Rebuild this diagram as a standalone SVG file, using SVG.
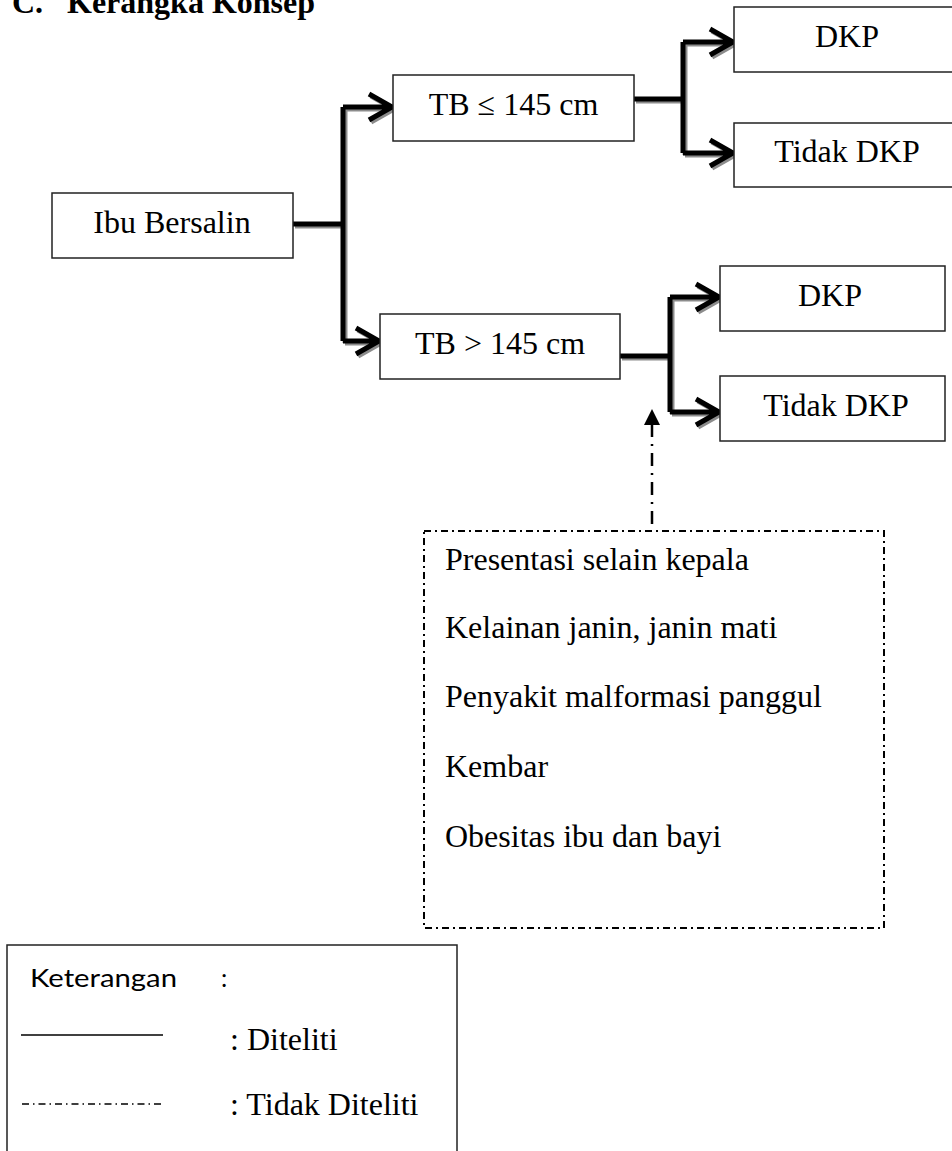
<svg xmlns="http://www.w3.org/2000/svg" width="952" height="1151" viewBox="0 0 952 1151">
<style>
.box{fill:#fff;stroke:#222;stroke-width:1.5}
.t{font-family:"Liberation Serif","Times New Roman",serif;font-size:32px;fill:#000}
.c{text-anchor:middle}
.ln{fill:none;stroke:#000;stroke-width:5;stroke-linejoin:miter}
.sh{fill:none;stroke:#8c8c8c;stroke-width:5;stroke-linejoin:miter}
.dd{fill:none;stroke:#000;stroke-width:2.5;stroke-dasharray:13 7 2 7}
.db{fill:none;stroke:#000;stroke-width:2;stroke-dasharray:7 4 2 4}
</style>
<defs>
<path id="c1" d="M293 224 H343 M343 107 V341 M343 107 H391 M343 341 H378 M369 94 L392 107 L369 120 M356 328 L379 341 L356 354"/>
<path id="c2" d="M634 99 H683 M683 42 V153 M683 42 H732 M683 153 H732 M710 29 L733 42 L710 55 M710 140 L733 153 L710 166"/>
<path id="c3" d="M620 356 H670 M670 297 V412 M670 297 H718 M670 412 H718 M696 284 L719 297 L696 310 M696 399 L719 412 L696 425"/>
</defs>
<g id="title">
<text class="t" x="12" y="13" font-weight="bold">C.</text>
<text class="t" x="67" y="13" font-weight="bold">Kerangka Konsep</text>
</g>
<g id="connectors">
<use href="#c1" class="sh" transform="translate(2,2)"/>
<use href="#c2" class="sh" transform="translate(2,2)"/>
<use href="#c3" class="sh" transform="translate(2,2)"/>
<use href="#c1" class="ln"/>
<use href="#c2" class="ln"/>
<use href="#c3" class="ln"/>
<line class="dd" x1="652" y1="424" x2="652" y2="531"/>
<polygon points="652,409 644,425 660,425" fill="#000"/>
</g>
<g id="ibu">
<rect class="box" x="52" y="193" width="241" height="65"/>
<text class="t c" x="172" y="233">Ibu Bersalin</text>
</g>
<g id="tb1">
<rect class="box" x="393" y="75" width="241" height="66"/>
<text class="t c" x="513.5" y="115">TB ≤ 145 cm</text>
</g>
<g id="tb2">
<rect class="box" x="380" y="314" width="240" height="65"/>
<text class="t c" x="500" y="354">TB &gt; 145 cm</text>
</g>
<g id="dkp1">
<rect class="box" x="734" y="7" width="230" height="65"/>
<text class="t c" x="847" y="47">DKP</text>
</g>
<g id="tdkp1">
<rect class="box" x="734" y="123" width="230" height="64"/>
<text class="t c" x="847" y="162">Tidak DKP</text>
</g>
<g id="dkp2">
<rect class="box" x="720" y="266" width="225" height="65"/>
<text class="t c" x="830" y="306">DKP</text>
</g>
<g id="tdkp2">
<rect class="box" x="720" y="376" width="225" height="65"/>
<text class="t c" x="836" y="416">Tidak DKP</text>
</g>
<g id="faktor">
<rect class="db" x="424" y="531" width="460" height="397"/>
<text class="t" x="445" y="570">Presentasi selain kepala</text>
<text class="t" x="445" y="638">Kelainan janin, janin mati</text>
<text class="t" x="445" y="707">Penyakit malformasi panggul</text>
<text class="t" x="445" y="777">Kembar</text>
<text class="t" x="445" y="847">Obesitas ibu dan bayi</text>
</g>
<g id="legend">
<rect x="7" y="945" width="450" height="230" fill="#fff" stroke="#222" stroke-width="1.5"/>
<text x="30" y="987" font-family="Lato,'Open Sans',sans-serif" font-size="25" textLength="147" lengthAdjust="spacingAndGlyphs">Keterangan</text>
<text x="221" y="987" font-family="Lato,'Open Sans',sans-serif" font-size="25">:</text>
<line x1="21" y1="1035" x2="163" y2="1035" stroke="#000" stroke-width="1.5"/>
<text class="t" x="230" y="1050">: Diteliti</text>
<line x1="22" y1="1104" x2="164" y2="1104" stroke="#000" stroke-width="1.5" stroke-dasharray="7 4 1.5 4"/>
<text class="t" x="230" y="1115">: Tidak Diteliti</text>
</g>
</svg>
